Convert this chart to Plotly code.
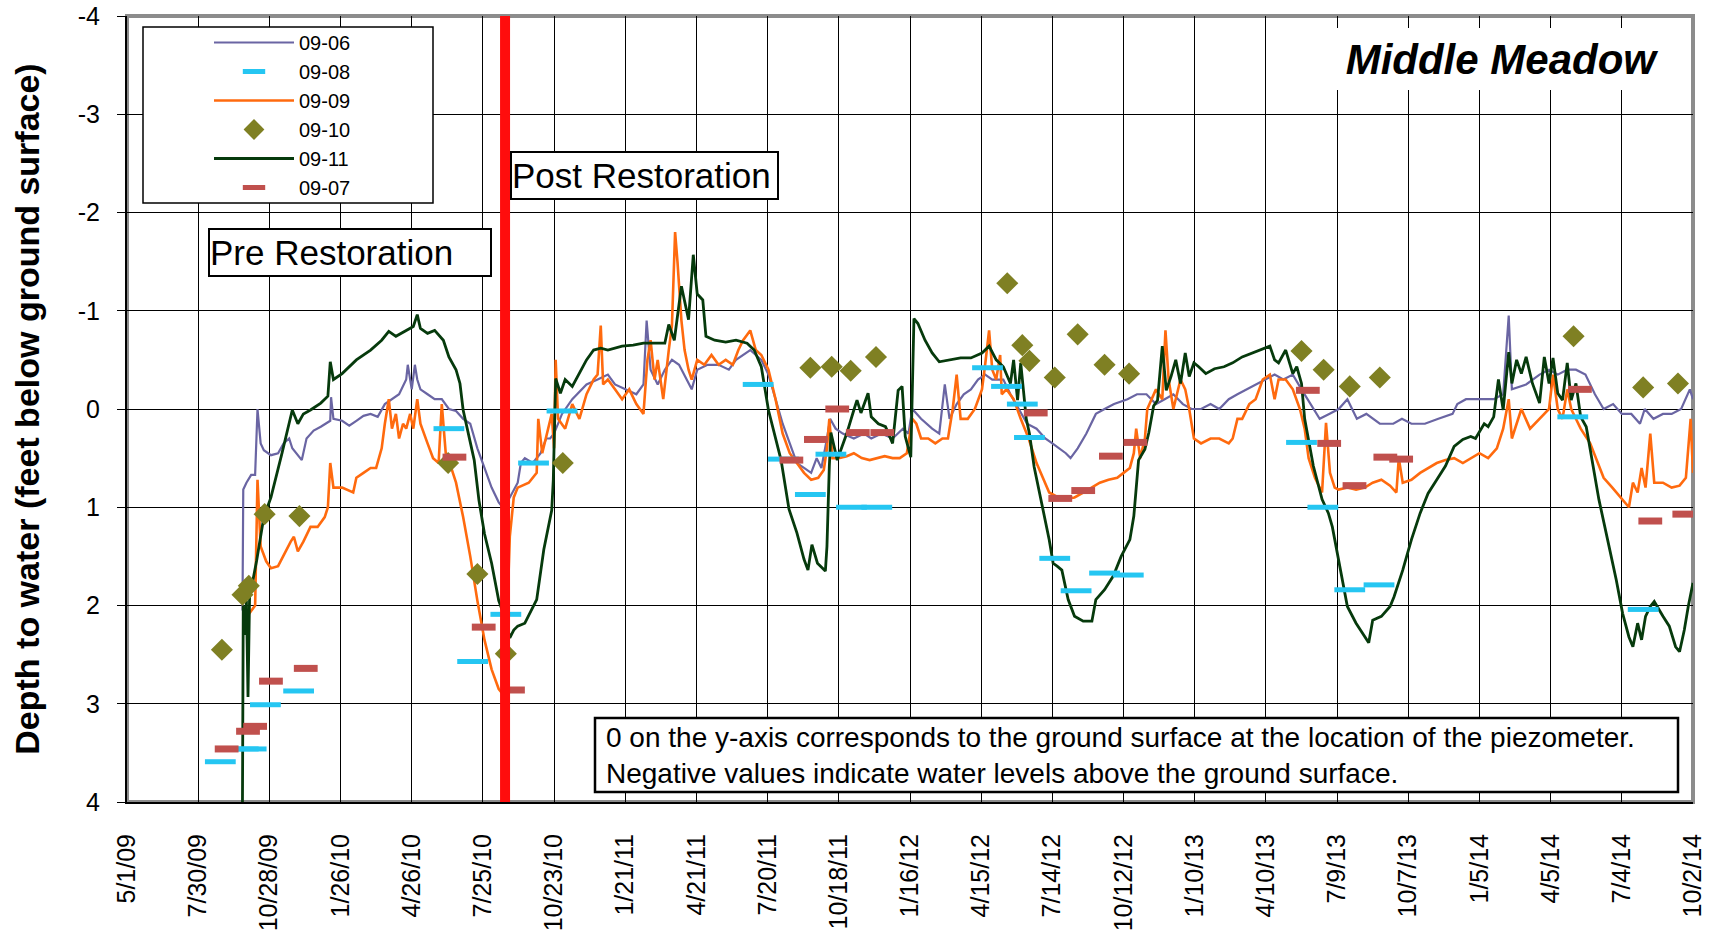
import pandas as pd
import plotly.graph_objects as go

# ---------------- data ----------------
START_DATE = "2009-05-01"          # x values below are days since this date
RESTORATION_DATE = "2010-08-22"

tick_labels = ["5/1/09", "7/30/09", "10/28/09", "1/26/10", "4/26/10", "7/25/10",
               "10/23/10", "1/21/11", "4/21/11", "7/20/11", "10/18/11", "1/16/12",
               "4/15/12", "7/14/12", "10/12/12", "1/10/13", "4/10/13", "7/9/13",
               "10/7/13", "1/5/14", "4/5/14", "7/4/14", "10/2/14"]
y_ticks = [-4, -3, -2, -1, 0, 1, 2, 3, 4]

# 09-06 (purple line)
days_0906 = [146, 147, 151, 157, 162, 165, 169, 173, 182, 191, 198, 205, 209, 221, 227, 236, 245, 257, 258, 261,
             272, 281, 290, 299, 308, 317, 326, 335, 344, 353, 355, 360, 364, 367, 371, 380, 389, 398, 407, 416,
             425, 434, 443, 452, 461, 470, 475, 484, 494, 498, 503, 513, 523, 530, 535, 540, 550, 563, 581, 595,
             608, 617, 631, 644, 653, 657, 662, 671, 680, 689, 698, 707, 714, 721, 734, 748, 761, 770, 788, 802,
             811, 820, 829, 838, 847, 856, 865, 872, 878, 885, 889, 896, 905, 919, 932, 941, 954, 968, 981, 988,
             993, 1004, 1018, 1027, 1034, 1040, 1049, 1058, 1067, 1076, 1085, 1094, 1108, 1117, 1127, 1138, 1150,
             1161, 1170, 1179, 1187, 1193, 1202, 1213, 1225, 1236, 1248, 1265, 1277, 1289, 1301, 1312, 1323, 1335,
             1346, 1358, 1370, 1381, 1393, 1404, 1416, 1427, 1439, 1451, 1462, 1474, 1485, 1497, 1508, 1520, 1532,
             1543, 1555, 1567, 1584, 1601, 1612, 1624, 1641, 1658, 1676, 1682, 1693, 1710, 1728, 1740, 1747, 1751,
             1769, 1786, 1798, 1809, 1821, 1832, 1844, 1856, 1867, 1879, 1890, 1902, 1913, 1919, 1930, 1942, 1953,
             1965, 1976, 1980]
depth_0906 = [2.05, 0.82, 0.75, 0.67, 0.67, 0.0, 0.35, 0.42, 0.47, 0.45, 0.35, 0.3, 0.4, 0.52, 0.3, 0.22, 0.18, 0.12, -0.12, 0.1,
              0.12, 0.17, 0.12, 0.07, 0.05, 0.08, -0.05, -0.1, -0.15, -0.3, -0.45, -0.2, -0.45, -0.3, -0.2, -0.15, -0.1, -0.1, 0.0, 0.02,
              0.1, 0.15, 0.4, 0.6, 0.8, 0.95, 1.0, 0.9, 0.75, 0.55, 0.5, 0.55, 0.45, 0.3, 0.3, 0.25, 0.05, -0.1, -0.25, -0.3,
              -0.35, -0.25, -0.2, -0.15, -0.25, -0.9, -0.4, -0.25, -0.4, -0.5, -0.45, -0.3, -0.2, -0.4, -0.45, -0.45, -0.4, -0.5, -0.6, -0.5,
              -0.35, -0.1, 0.15, 0.35, 0.55, 0.6, 0.65, 0.5, 0.6, 0.3, 0.1, 0.2, 0.25, 0.3, 0.25, 0.3, 0.25, 0.3, 0.2, 0.25,
              0.0, 0.1, 0.2, 0.25, -0.25, 0.1, -0.05, -0.15, -0.2, -0.3, -0.35, -0.3, -0.3, -0.15, 0.0, 0.15, 0.2,
              0.3, 0.35, 0.4, 0.45, 0.5, 0.4, 0.25, 0.05, 0.0, -0.05, -0.1, -0.15, -0.15, -0.05, -0.1, -0.15, -0.05,
              0.0, 0.0, -0.05, 0.0, -0.1, -0.15, -0.2, -0.25, -0.3, -0.35, -0.3, -0.35, -0.2, -0.05, 0.1, 0.05, 0.0,
              -0.1, 0.1, 0.05, 0.15, 0.15, 0.1, 0.15, 0.15, 0.1, 0.05, -0.05, -0.1, -0.1, -0.1, -0.15, -0.95, -0.2,
              -0.25, -0.35, -0.4, -0.35, -0.4, -0.4, -0.35, -0.15, 0.0, -0.05, 0.05, 0.05, 0.15, 0.0, 0.1, 0.05, 0.05,
              0.0, -0.2, -0.1]

# 09-09 (orange line)
days_0909 = [153, 157, 162, 165, 169, 176, 182, 191, 200, 207, 211, 216, 223, 232, 241, 250, 254, 257, 261, 272,
             286, 290, 299, 308, 315, 322, 326, 331, 335, 340, 344, 349, 353, 358, 362, 367, 371, 376, 380, 387,
             394, 398, 403, 410, 416, 425, 434, 443, 452, 461, 470, 475, 479, 484, 489, 494, 508, 518, 520, 525,
             532, 537, 540, 542, 545, 554, 563, 572, 581, 590, 595, 599, 602, 608, 617, 626, 635, 644, 653, 658,
             662, 667, 671, 678, 685, 689, 693, 696, 701, 705, 710, 714, 721, 730, 739, 748, 757, 766, 773, 779,
             788, 795, 802, 811, 820, 829, 838, 847, 856, 865, 874, 881, 885, 888, 892, 900, 910, 919, 929, 939,
             948, 958, 968, 977, 986, 993, 998, 1004, 1013, 1022, 1031, 1038, 1044, 1049, 1054, 1063, 1072, 1081,
             1085, 1090, 1094, 1099, 1104, 1106, 1112, 1121, 1130, 1140, 1150, 1160, 1166, 1182, 1198, 1209, 1220,
             1230, 1241, 1252, 1260, 1268, 1273, 1276, 1281, 1287, 1290, 1301, 1309, 1313, 1317, 1323, 1332, 1338,
             1343, 1349, 1358, 1370, 1381, 1393, 1398, 1404, 1410, 1419, 1427, 1436, 1445, 1451, 1456, 1465, 1474,
             1483, 1489, 1494, 1502, 1511, 1516, 1521, 1527, 1532, 1543, 1554, 1565, 1575, 1586, 1597, 1605, 1608,
             1613, 1624, 1635, 1645, 1656, 1667, 1678, 1689, 1699, 1710, 1721, 1732, 1740, 1747, 1751, 1763, 1774,
             1786, 1798, 1803, 1809, 1815, 1821, 1826, 1832, 1838, 1850, 1867, 1878, 1889, 1899, 1904, 1910, 1915,
             1920, 1926, 1931, 1942, 1953, 1963, 1971, 1977, 1980]
depth_0909 = [2.1, 2.05, 2.0, 0.72, 1.4, 1.55, 1.62, 1.6, 1.45, 1.35, 1.3, 1.45, 1.35, 1.2, 1.2, 1.1, 1.0, 0.55, 0.8, 0.8,
              0.85, 0.7, 0.65, 0.6, 0.6, 0.4, 0.15, -0.1, 0.2, 0.05, 0.3, 0.15, 0.2, 0.05, 0.2, -0.1, 0.15, 0.25, 0.35, 0.5,
              0.55, -0.05, 0.45, 0.6, 0.75, 1.1, 1.5, 1.95, 2.35, 2.65, 2.85, 2.9, 2.5, 1.3, 0.9, 0.8, 0.75, 0.65, 0.1, 0.45,
              0.2, 0.05, 0.4, -0.5, 0.1, 0.2, -0.05, 0.1, -0.15, -0.3, -0.35, -0.85, -0.25, -0.3, -0.2, -0.1, -0.2, -0.05, 0.05, -0.5,
              -0.7, -0.3, -0.5, -0.1, -0.6, -0.85, -1.8, -1.5, -0.9, -0.6, -0.4, -0.3, -0.5, -0.45, -0.55, -0.45, -0.5, -0.45, -0.6, -0.7,
              -0.8, -0.6, -0.55, -0.4, -0.1, 0.25, 0.45, 0.55, 0.65, 0.72, 0.7, 0.62, 0.4, 0.1, 0.5, 0.5, 0.48, 0.45, 0.5, 0.52,
              0.5, 0.48, 0.5, 0.5, 0.45, 0.1, 0.15, 0.3, 0.3, 0.35, 0.3, 0.3, 0.0, -0.35, 0.1, 0.1, 0.0, -0.2,
              -0.45, -0.8, -0.4, -0.3, -0.55, -0.15, -0.2, -0.1, 0.1, 0.3, 0.55, 0.75, 0.85, 0.92, 0.9, 0.85, 0.8,
              0.75, 0.72, 0.7, 0.65, 0.6, 0.45, 0.2, 0.5, 0.3, 0.0, -0.2, -0.1, -0.8, -0.3, 0.0, -0.3, -0.2,
              0.0, 0.3, 0.35, 0.3, 0.3, 0.35, 0.3, 0.1, 0.1, -0.05, -0.1, -0.3, -0.35, -0.1, -0.3, -0.3, -0.2,
              0.0, 0.2, 0.5, 0.7, 0.85, 0.14, 0.65, 0.8, 0.82, 0.8, 0.82, 0.8, 0.75, 0.72, 0.78, 0.85, 0.5,
              0.75, 0.72, 0.65, 0.6, 0.55, 0.52, 0.5, 0.55, 0.5, 0.45, 0.5, 0.4, 0.2, -0.1, 0.3, 0.0, 0.2,
              0.1, 0.0, -0.35, 0.0, 0.1, -0.2, 0.0, 0.1, 0.2, 0.35, 0.7, 0.8, 0.9, 1.0, 0.75, 0.85, 0.6,
              0.8, 0.25, 0.75, 0.75, 0.8, 0.78, 0.7, 0.1, 0.65]

# 09-11 (dark green line)
days_0911 = [146, 147, 149, 151, 153, 155, 159, 164, 173, 182, 196, 209, 216, 223, 232, 245, 254, 257, 261, 272,
             290, 308, 322, 331, 340, 353, 362, 367, 371, 380, 389, 400, 407, 416, 421, 425, 434, 439, 445, 452,
             461, 470, 479, 484, 489, 494, 503, 518, 527, 537, 539, 542, 548, 554, 563, 572, 581, 590, 599, 608,
             617, 626, 640, 653, 667, 680, 685, 692, 701, 705, 710, 716, 721, 728, 732, 743, 757, 770, 784, 793,
             802, 811, 827, 837, 847, 856, 861, 866, 873, 883, 885, 888, 890, 898, 910, 919, 923, 928, 937, 941,
             950, 959, 964, 968, 975, 980, 984, 991, 995, 1000, 1009, 1018, 1027, 1040, 1054, 1067, 1081, 1090,
             1099, 1108, 1117, 1121, 1126, 1130, 1137, 1141, 1147, 1166, 1171, 1176, 1182, 1190, 1198, 1209, 1220,
             1225, 1236, 1247, 1257, 1268, 1273, 1279, 1287, 1292, 1298, 1303, 1309, 1314, 1320, 1326, 1332, 1338,
             1343, 1349, 1355, 1364, 1375, 1387, 1398, 1410, 1422, 1433, 1445, 1451, 1456, 1465, 1474, 1479, 1485,
             1489, 1500, 1511, 1519, 1524, 1532, 1538, 1543, 1554, 1565, 1570, 1575, 1586, 1597, 1602, 1613, 1624,
             1635, 1645, 1656, 1667, 1678, 1689, 1699, 1705, 1716, 1721, 1728, 1734, 1740, 1747, 1751, 1757, 1763,
             1769, 1777, 1786, 1792, 1798, 1803, 1809, 1815, 1821, 1826, 1832, 1838, 1845, 1850, 1861, 1872, 1883,
             1891, 1899, 1904, 1910, 1915, 1920, 1926, 1931, 1942, 1950, 1958, 1963, 1969, 1974, 1980]
depth_0911 = [4.0, 2.0, 2.3, 1.95, 2.93, 1.9, 1.75, 1.54, 1.1, 0.9, 0.45, 0.01, 0.15, 0.05, 0.01, -0.06, -0.13, -0.48, -0.3, -0.36,
              -0.5, -0.6, -0.7, -0.79, -0.74, -0.8, -0.84, -0.96, -0.82, -0.77, -0.8, -0.7, -0.53, -0.4, -0.26, 0.01, 0.32, 0.52, 0.93, 1.27,
              1.57, 1.95, 2.15, 2.33, 2.25, 2.21, 2.18, 1.94, 1.43, 1.03, 0.72, -0.31, -0.16, -0.3, -0.23, -0.36, -0.5, -0.6, -0.62, -0.6,
              -0.62, -0.64, -0.65, -0.67, -0.67, -0.67, -0.86, -0.7, -1.25, -1.11, -0.91, -1.57, -1.17, -1.11, -0.74, -0.7, -0.68, -0.7, -0.67, -0.6,
              -0.43, 0.01, 0.52, 1.02, 1.26, 1.53, 1.64, 1.38, 1.57, 1.65, 1.4, 0.58, 0.24, 0.52, 0.25, 0.01, -0.09, 0.04, -0.16, 0.08,
              0.15, 0.18, 0.28, 0.35, -0.19, -0.23, 0.28, 0.49, -0.92, -0.87, -0.7, -0.57, -0.48, -0.5, -0.52, -0.52, -0.57, -0.64,
              -0.5, -0.43, -0.26, -0.5, -0.09, -0.47, 0.1, 0.25, 0.59, 1.33, 1.57, 1.6, 1.64, 1.94, 2.11, 2.16, 2.16,
              1.94, 1.84, 1.7, 1.5, 1.33, 1.09, 0.52, 0.41, 0.24, -0.03, -0.09, -0.64, -0.19, -0.33, -0.5, -0.26, -0.57,
              -0.33, -0.47, -0.43, -0.36, -0.41, -0.43, -0.47, -0.53, -0.57, -0.6, -0.64, -0.5, -0.47, -0.6, -0.36, -0.43, -0.26,
              0.1, 0.58, 0.92, 1.06, 1.2, 1.53, 1.81, 2.01, 2.18, 2.32, 2.38, 2.15, 2.11, 2.01, 1.91, 1.64, 1.33,
              1.06, 0.86, 0.72, 0.58, 0.38, 0.31, 0.28, 0.3, 0.15, 0.18, 0.08, -0.3, 0.01, -0.58, -0.26, -0.5, -0.36,
              -0.53, -0.26, -0.06, -0.53, -0.26, -0.52, -0.16, -0.09, -0.47, -0.09, -0.26, 0.08, 0.18, 0.41, 0.92, 1.33, 1.74,
              2.08, 2.32, 2.42, 2.18, 2.35, 2.11, 2.01, 1.96, 2.11, 2.21, 2.42, 2.47, 2.25, 2.01, 1.77]

# 09-10 (olive diamonds)
days_0910 = [120, 146, 154, 174, 218, 406, 443, 479, 551, 864, 891, 915, 947, 1113, 1132, 1141, 1173, 1202,
             1236, 1267, 1485, 1513, 1546, 1584, 1829, 1917, 1961]
depth_0910 = [2.45, 1.89, 1.8, 1.07, 1.09, 0.55, 1.68, 2.49, 0.55, -0.42, -0.43, -0.39, -0.53, -1.28, -0.65, -0.49, -0.32, -0.76,
              -0.45, -0.36, -0.59, -0.4, -0.23, -0.32, -0.74, -0.22, -0.26]

# 09-08 (cyan dashes)
days_0908 = [118, 147, 157, 175, 217, 407, 437, 479, 514, 550, 798, 830, 864, 890, 916, 948, 1088, 1112, 1132,
             1141, 1173, 1200, 1236, 1266, 1485, 1512, 1546, 1583, 1828, 1917]
depth_0908 = [3.59, 3.46, 3.46, 3.01, 2.87, 0.2, 2.57, 2.09, 0.55, 0.02, -0.25, 0.51, 0.87, 0.46, 1.0, 1.0, -0.42, -0.23, -0.05,
              0.29, 1.52, 1.85, 1.67, 1.69, 0.34, 1.0, 1.84, 1.79, 0.08, 2.04]

# 09-07 (brick red dashes)
days_0907 = [126, 153, 162, 182, 226, 414, 451, 488, 840, 871, 898, 924, 955, 1149, 1180, 1209, 1244, 1275,
             1493, 1520, 1552, 1591, 1611, 1837, 1926, 1969]
depth_0907 = [3.46, 3.28, 3.23, 2.77, 2.64, 0.49, 2.22, 2.86, 0.52, 0.31, 0.0, 0.24, 0.24, 0.04, 0.91, 0.83, 0.48, 0.34,
              -0.19, 0.35, 0.78, 0.49, 0.51, -0.2, 1.14, 1.07]


# ---------------- figure ----------------
def to_dates(days):
    return pd.Timestamp(START_DATE) + pd.to_timedelta(days, unit="D")


tick_dates = pd.to_datetime(tick_labels, format="%m/%d/%y")

# page geometry (body margin is removed by the post script below)
PLOT_L, PLOT_R, PLOT_T, PLOT_B = 127, 1693, 16, 802
W, H = 1717, 940
ML, MT = PLOT_L, PLOT_T
MR, MB = W - PLOT_R, H - PLOT_B
PW, PH = PLOT_R - PLOT_L, PLOT_B - PLOT_T


def px(xp):
    return (xp - PLOT_L) / PW


def py(yp):
    return (PLOT_B - yp) / PH


FONT = "Arial, 'Liberation Sans', sans-serif"

fig = go.Figure()

line_series = [
    ("09-06", days_0906, depth_0906, "#6a65a3", 2.2, 1),
    ("09-09", days_0909, depth_0909, "#ff6a0e", 2.6, 3),
    ("09-11", days_0911, depth_0911, "#063a0c", 2.8, 5),
]
for name, d, v, col, lw, rank in line_series:
    fig.add_trace(go.Scatter(
        x=to_dates(d), y=v, mode="lines", name=name, legendgroup=name, legendrank=rank,
        line=dict(color=col, width=lw)))

fig.add_trace(go.Scatter(
    x=to_dates(days_0910), y=depth_0910, mode="markers", name="09-10", legendgroup="09-10", legendrank=4,
    marker=dict(symbol="diamond", size=17, color="#7f8023", line=dict(width=0))))
fig.add_trace(go.Scatter(
    x=to_dates(days_0908), y=depth_0908, mode="markers", name="09-08", legendgroup="09-08", legendrank=2,
    marker=dict(symbol="line-ew", size=22, color="#25c6f2", line=dict(width=5, color="#25c6f2"))))
fig.add_trace(go.Scatter(
    x=to_dates(days_0907), y=depth_0907, mode="markers", name="09-07", legendgroup="09-07", legendrank=6,
    marker=dict(symbol="line-ew", size=17, color="#c0504d", line=dict(width=7, color="#c0504d"))))

shapes = [
    # plot-area border (grey, Excel style)
    dict(type="rect", xref="paper", yref="paper", x0=0, x1=1, y0=0, y1=1,
         line=dict(color="#8c8c8c", width=4), layer="below"),
    # restoration date
    dict(type="line", xref="x", yref="paper", x0=RESTORATION_DATE, x1=RESTORATION_DATE, y0=0, y1=1,
         line=dict(color="#ff0d0d", width=10), layer="above"),
    # legend frame
    dict(type="rect", xref="paper", yref="paper", x0=px(143), x1=px(433), y0=py(203), y1=py(27),
         line=dict(color="black", width=1.5), fillcolor="white", layer="above"),
    # note frame
    dict(type="rect", xref="paper", yref="paper", x0=px(595), x1=px(1678), y0=py(792), y1=py(718),
         line=dict(color="black", width=2.5), fillcolor="white", layer="above"),
]

annotations = [
    dict(xref="paper", yref="paper", x=px(208), y=py(228), xanchor="left", yanchor="top",
         text="Pre Restoration", showarrow=False, align="left", width=280, height=45,
         font=dict(family=FONT, size=35, color="black"),
         bgcolor="white", bordercolor="black", borderwidth=2, borderpad=0),
    dict(xref="paper", yref="paper", x=px(510), y=py(151), xanchor="left", yanchor="top",
         text="Post Restoration", showarrow=False, align="left", width=265, height=45,
         font=dict(family=FONT, size=35, color="black"),
         bgcolor="white", bordercolor="black", borderwidth=2, borderpad=0),
    dict(xref="paper", yref="paper", x=px(604), y=py(755), xanchor="left", yanchor="middle",
         text="0 on the y-axis corresponds to the ground surface at the location of the piezometer.<br>"
              "Negative values indicate water levels above the ground surface.",
         showarrow=False, align="left",
         font=dict(family=FONT, size=28, color="black")),
    dict(xref="paper", yref="paper", x=px(1331), y=py(28), xanchor="left", yanchor="top",
         text="<b><i>Middle Meadow</i></b>", showarrow=False, align="center", width=340, height=60,
         font=dict(family=FONT, size=42, color="black"), bgcolor="white", borderwidth=0),
]

fig.update_layout(
    width=W, height=H,
    margin=dict(l=ML, r=MR, t=MT, b=MB, pad=0),
    paper_bgcolor="white", plot_bgcolor="white",
    font=dict(family=FONT, color="black"),
    showlegend=True,
    legend=dict(x=px(209), y=py(23), xanchor="left", yanchor="top",
                bgcolor="rgba(0,0,0,0)", borderwidth=0, itemwidth=80,
                font=dict(family=FONT, size=20, color="black"),
                tracegroupgap=0, traceorder="normal"),
    shapes=shapes, annotations=annotations,
    xaxis=dict(type="date", range=[tick_dates[0], tick_dates[-1]],
               tickvals=tick_dates, ticktext=tick_labels, tickangle=-90,
               tickfont=dict(family=FONT, size=25, color="black"),
               showgrid=True, gridcolor="black", gridwidth=1,
               showline=True, linecolor="black", linewidth=2,
               ticks="inside", ticklen=7, tickcolor="black", ticklabelstandoff=20,
               ticklabeloverflow="allow",
               zeroline=False, automargin=False),
    yaxis=dict(range=[4, -4], tickvals=y_ticks, ticktext=[str(t) for t in y_ticks],
               tickfont=dict(family=FONT, size=25, color="black"),
               showgrid=True, gridcolor="black", gridwidth=1,
               showline=True, linecolor="black", linewidth=2,
               ticks="outside", ticklen=8, tickcolor="black", ticklabelstandoff=12,
               ticklabeloverflow="allow",
               zeroline=False, automargin=False,
               title=dict(text="<b>Depth to water (feet below ground surface)</b>",
                          font=dict(family=FONT, size=34, color="black"), standoff=28)),
)

fig.write_html("out.html", config={"displayModeBar": False},
               post_script="document.body.style.margin = '0';")
